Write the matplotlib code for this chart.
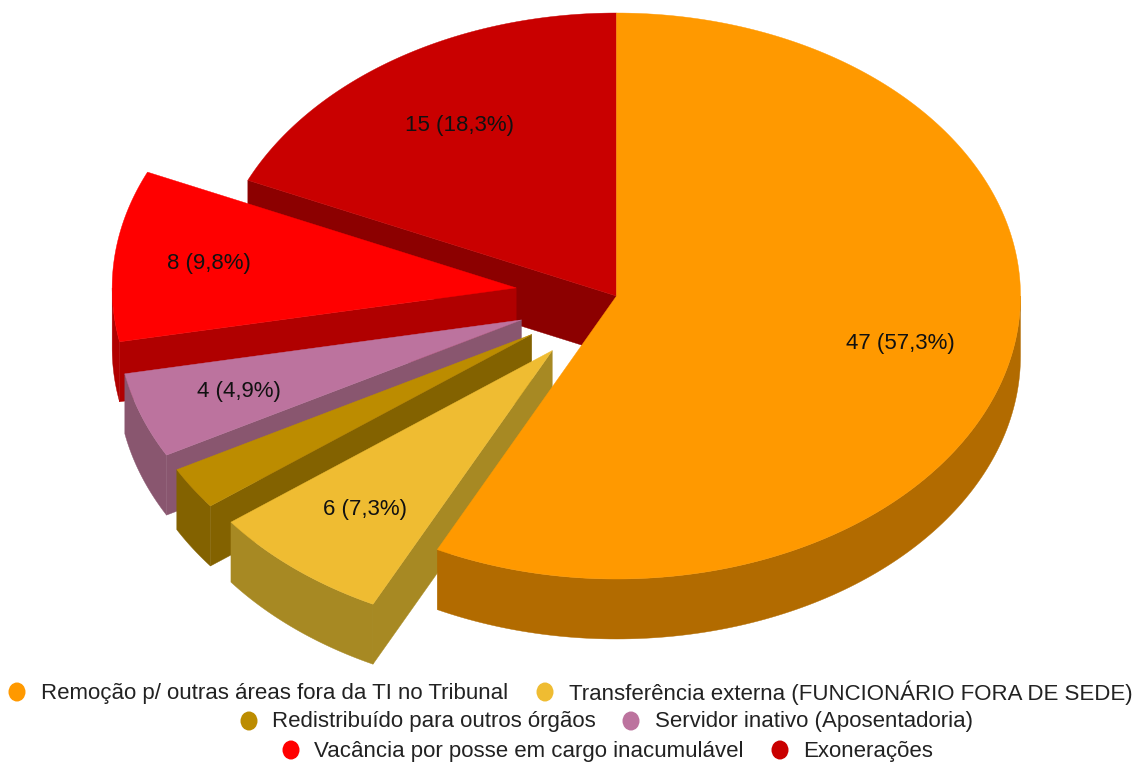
import numpy as np
import matplotlib
matplotlib.use("Agg")
import matplotlib.pyplot as plt
from matplotlib.patches import Polygon, Ellipse

# Dados do gráfico
labels = [
    "Remoção p/ outras áreas fora da TI no Tribunal",
    "Transferência externa (FUNCIONÁRIO FORA DE SEDE)",
    "Redistribuído para outros órgãos",
    "Servidor inativo (Aposentadoria)",
    "Vacância por posse em cargo inacumulável",
    "Exonerações",
]
values = [47, 6, 2, 4, 8, 15]
value_labels = ["47 (57,3%)", "6 (7,3%)", None, "4 (4,9%)", "8 (9,8%)", "15 (18,3%)"]
explode = [0, 0.25, 0.25, 0.25, 0.25, 0]
top_colors = ["#FF9900", "#EFBC32", "#BC8C00", "#BC739E", "#FF0000", "#C90000"]
side_colors = ["#B26B00", "#A78923", "#836200", "#89566F", "#B00000", "#8C0000"]

# Geometria em pixels da imagem
CX, CY = 616.5, 296
RX, RY = 404, 283
DEPTH = 60

label_pos = [(900, 343), (365, 510), None, (239, 392), (209, 263), (460, 126)]
legend_rows = [
    (693, [(17, 41, 0), (545, 569, 1)]),
    (722, [(249, 272, 2), (631, 655, 3)]),
    (751, [(291, 314, 4), (780, 803, 5)]),
]

plt.rcParams["font.family"] = ["Liberation Sans", "DejaVu Sans"]

fig = plt.figure(figsize=(11.38, 7.62), dpi=100, facecolor="white")
ax = fig.add_axes([0, 0, 1, 1])
ax.set_xlim(0, 1138)
ax.set_ylim(762, 0)
ax.axis("off")


def ell(theta, cx, cy):
    # theta em graus, sentido horário a partir do topo
    t = np.radians(theta)
    return np.column_stack([cx + RX * np.sin(t), cy - RY * np.cos(t)])


def shape(pts, color, z):
    # borda fina da mesma cor para não aparecer emenda
    ax.add_patch(Polygon(pts, closed=True, facecolor=color, edgecolor=color, linewidth=0.3, zorder=z))


edges = np.concatenate([[0], np.cumsum(values)]) / sum(values) * 360

# de trás para frente: a fatia laranja fica por último
order = [5, 4, 3, 2, 1, 0]
for z, i in enumerate(order):
    a0, a1 = edges[i], edges[i + 1]
    mid = np.radians((a0 + a1) / 2)
    cx = CX + explode[i] * RX * np.sin(mid)
    cy = CY - explode[i] * RY * np.cos(mid)
    base = z * 3 + 1

    # parede radial do lado esquerdo
    if a0 > 180:
        p = ell(np.array([a0]), cx, cy)[0]
        shape([(cx, cy), p, (p[0], p[1] + DEPTH), (cx, cy + DEPTH)], side_colors[i], base)

    # lateral externa (só a metade de baixo aparece)
    s0, s1 = max(a0, 90), min(a1, 270)
    if s1 > s0:
        arc = ell(np.linspace(s0, s1, 120), cx, cy)
        low = arc[::-1] + np.array([0, DEPTH])
        shape(np.vstack([arc, low]), side_colors[i], base + 1)

    # topo
    top = ell(np.linspace(a0, a1, 240), cx, cy)
    shape(np.vstack([[(cx, cy)], top]), top_colors[i], base + 2)

for txt, pos in zip(value_labels, label_pos):
    if txt is None:
        continue
    ax.text(pos[0], pos[1], txt, ha="center", va="center", fontsize=16, color="#111111", zorder=40)

for y, items in legend_rows:
    for mx, tx, i in items:
        ax.add_patch(Ellipse((mx, y - 1), 17, 19, facecolor=top_colors[i], edgecolor="none", zorder=40))
        ax.text(tx, y, labels[i], ha="left", va="center", fontsize=16, color="#222222", zorder=40)

fig.savefig("out.png", dpi=100, facecolor="white")
plt.close(fig)
